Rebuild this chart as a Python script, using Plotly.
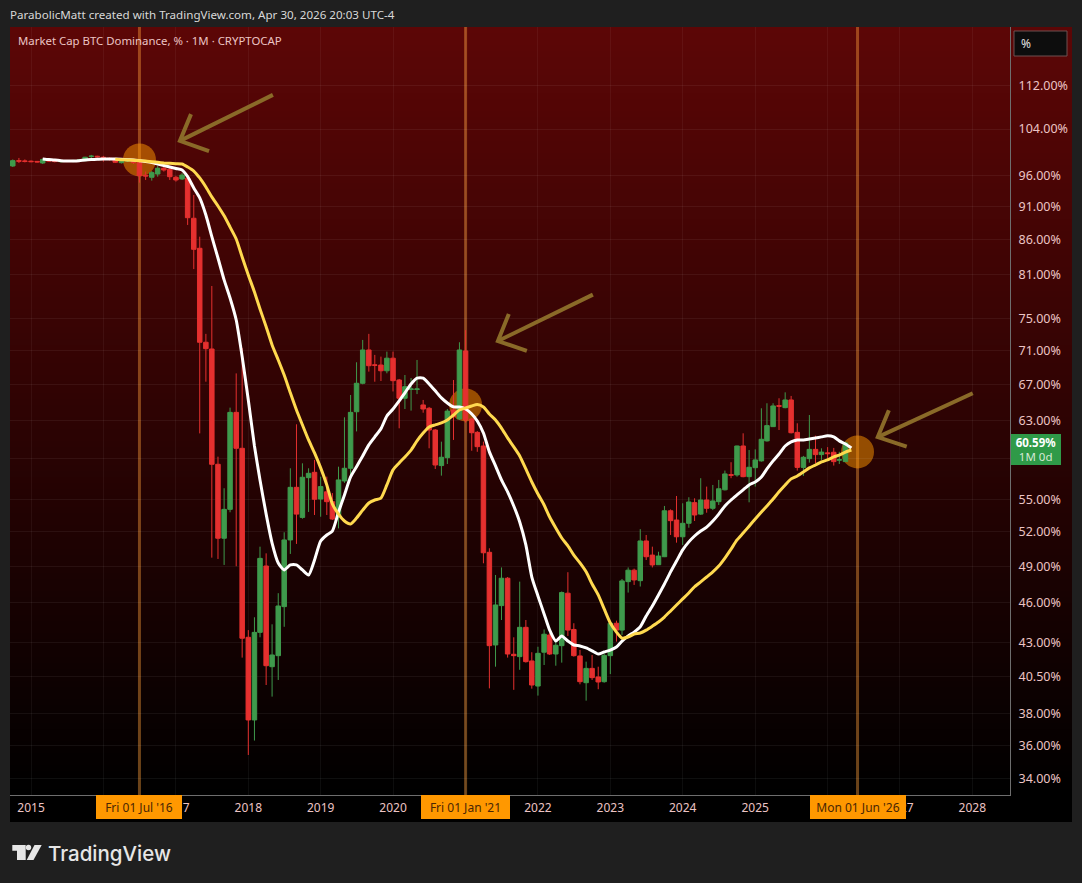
import math

import pandas as pd
import plotly.graph_objects as go

# monthly candles, Oct 2014 to Apr 2026
OPENS = [
    97.59, 98.49, 98.44,
    98.40, 98.36, 98.10, 98.52, 98.44, 98.30, 98.47, 98.36, 98.49, 98.49, 99.19, 99.24,
    99.07, 98.90, 98.78, 98.15, 98.44, 98.61, 98.15, 96.05, 95.71, 96.25, 97.21, 97.04,
    95.71, 95.43, 95.55, 89.19, 84.70, 72.05, 71.22, 58.40, 51.42, 54.04, 63.86, 60.03,
    43.36, 37.61, 43.73, 49.02, 41.22, 42.01, 45.71, 51.27, 56.13, 53.30, 57.07, 57.60,
    55.01, 55.70, 54.76, 53.36, 56.75, 58.00, 63.93, 67.14, 71.10, 69.30, 69.28, 68.60,
    70.10, 67.52, 65.43, 66.42, 66.42, 64.68, 64.31, 61.95, 58.27, 59.07, 64.12, 63.14,
    70.98, 63.14, 61.70, 60.27, 50.19, 42.79, 45.79, 48.00, 42.11, 41.94, 44.11, 41.63,
    39.87, 42.26, 43.53, 42.13, 42.74, 46.78, 43.95, 41.99, 40.10, 41.10, 40.50, 40.17,
    42.01, 44.42, 43.90, 47.72, 48.67, 47.80, 51.18, 49.95, 49.13, 49.81, 53.91, 53.06,
    51.55, 52.76, 54.67, 53.60, 54.92, 54.14, 54.76, 55.89, 57.37, 57.34, 60.27, 57.17,
    58.06, 58.74, 60.80, 62.31, 64.60, 64.38, 65.24, 61.70, 58.09, 58.97, 59.92, 59.38,
    59.56, 59.62, 58.81, 58.67,
]
HIGHS = [
    98.70, 98.95, 98.70,
    98.52, 98.44, 98.86, 98.70, 98.61, 98.61, 98.61, 98.64, 98.78, 99.15, 99.47, 99.33,
    99.30, 99.03, 98.86, 98.78, 98.86, 98.70, 98.61, 96.66, 96.75, 97.59, 97.47, 97.26,
    95.92, 96.41, 95.92, 92.84, 86.41, 73.10, 79.38, 59.17, 56.04, 64.38, 68.29, 71.33,
    43.90, 44.88, 50.68, 50.10, 44.34, 46.78, 51.95, 58.00, 62.56, 58.50, 58.00, 58.84,
    57.17, 57.17, 55.58, 58.16, 63.32, 65.80, 69.61, 72.34, 73.10, 70.50, 70.29, 70.90,
    70.90, 67.64, 68.10, 67.75, 69.89, 65.24, 64.46, 62.05, 60.72, 64.23, 67.52, 72.05,
    73.57, 63.25, 61.84, 60.72, 50.54, 48.27, 48.90, 48.10, 43.36, 47.72, 44.67, 42.26,
    42.66, 43.95, 43.68, 43.08, 46.92, 48.50, 44.42, 42.43, 41.58, 42.06, 41.22, 42.30,
    44.54, 44.62, 47.94, 48.90, 48.80, 52.23, 51.71, 50.68, 50.24, 54.36, 54.04, 55.30,
    54.61, 55.18, 55.08, 57.02, 56.20, 56.36, 56.85, 57.77, 58.61, 60.30, 61.60, 59.85,
    59.92, 64.31, 64.87, 64.87, 65.43, 66.10, 65.69, 62.67, 59.25, 63.57, 61.35, 60.03,
    60.15, 60.07, 59.67, 60.72,
]
LOWS = [
    97.42, 98.10, 98.19,
    98.22, 98.19, 97.93, 98.27, 98.19, 98.19, 98.24, 98.22, 98.36, 98.40, 98.90, 99.03,
    98.32, 98.52, 98.10, 98.01, 98.27, 97.93, 94.83, 95.27, 95.16, 95.81, 96.66, 95.27,
    95.00, 95.27, 88.17, 81.72, 61.59, 67.32, 49.73, 49.62, 49.11, 53.77, 49.00, 41.87,
    35.41, 36.30, 43.36, 39.94, 39.15, 40.29, 44.15, 50.05, 50.92, 53.18, 53.80, 53.52,
    53.36, 53.52, 53.06, 52.30, 56.56, 57.34, 61.80, 67.02, 68.50, 67.32, 67.40, 68.30,
    66.20, 62.13, 64.23, 64.05, 65.90, 63.82, 60.03, 57.93, 57.27, 58.43, 60.90, 63.03,
    62.74, 59.78, 59.67, 49.25, 39.71, 41.22, 44.67, 41.87, 39.61, 41.00, 41.51, 39.69,
    39.22, 41.34, 42.06, 41.29, 41.51, 43.46, 41.94, 39.99, 38.88, 40.29, 39.65, 40.10,
    40.70, 43.04, 43.53, 46.83, 47.45, 47.32, 49.53, 48.90, 49.11, 49.78, 51.71, 51.03,
    50.83, 52.36, 52.97, 53.52, 53.73, 53.97, 54.45, 55.83, 57.02, 57.17, 57.11, 54.70,
    56.20, 58.67, 60.72, 62.27, 61.95, 64.31, 61.59, 57.77, 57.24, 58.57, 58.51, 58.84,
    58.84, 58.27, 58.43, 58.64,
]
CLOSES = [
    98.49, 98.40, 98.37,
    98.32, 98.27, 98.70, 98.44, 98.34, 98.47, 98.36, 98.52, 98.61, 99.07, 99.26, 99.15,
    98.95, 98.78, 98.22, 98.70, 98.75, 98.15, 95.97, 95.92, 96.48, 97.21, 96.92, 95.81,
    95.27, 96.08, 89.28, 84.55, 72.05, 71.26, 58.40, 51.42, 54.04, 63.86, 60.03, 43.29,
    37.61, 43.73, 49.67, 41.29, 42.06, 45.76, 51.27, 56.13, 53.60, 57.11, 57.50, 54.99,
    56.20, 54.76, 53.15, 56.85, 58.00, 63.86, 67.14, 71.10, 69.20, 69.25, 68.60, 70.10,
    67.44, 65.43, 66.75, 66.49, 66.49, 64.23, 61.95, 58.33, 59.11, 64.00, 63.39, 71.10,
    63.03, 61.66, 60.20, 50.15, 42.74, 45.84, 48.00, 42.13, 42.01, 44.11, 41.58, 39.94,
    42.18, 43.59, 42.13, 42.77, 46.83, 43.90, 42.01, 40.17, 41.10, 40.45, 40.15, 42.03,
    44.42, 43.90, 47.78, 48.67, 47.86, 51.18, 49.81, 49.11, 49.87, 53.91, 53.00, 51.55,
    52.76, 54.73, 53.52, 54.92, 54.14, 54.83, 55.99, 57.44, 57.31, 60.27, 57.17, 58.10,
    58.84, 60.97, 62.42, 64.57, 64.54, 65.24, 61.66, 58.09, 59.11, 59.92, 59.38, 59.64,
    59.48, 58.67, 58.87, 60.59,
]

# moving averages, both end May 2026
WHITE_MA = [
    98.78, 98.68, 98.61, 98.49, 98.44, 98.44, 98.49, 98.61, 98.68, 98.73,
    98.78, 98.78, 98.78, 98.73, 98.66, 98.61, 98.49, 98.36, 98.19, 97.93, 97.68, 97.42,
    97.17, 96.92, 95.81, 93.97, 92.37, 89.69, 86.41, 83.30, 80.21, 77.76, 74.87, 70.29,
    65.24, 60.27, 56.85, 53.60, 51.00, 49.28, 48.69, 49.11, 49.11, 48.69, 48.27, 49.53,
    51.18, 51.71, 52.06, 53.79, 55.40, 57.14, 58.15, 59.25, 60.38, 61.22, 62.08, 63.46,
    64.23, 65.13, 66.05, 67.06, 67.75, 67.75, 67.06, 66.27, 65.47, 64.90, 64.46, 64.46,
    64.23, 63.68, 62.92, 61.63, 59.66, 58.24, 56.85, 55.70, 54.36, 52.88, 50.83, 48.10,
    46.56, 45.14, 43.90, 43.08, 43.46, 43.08, 42.79, 42.72, 42.57, 42.36, 42.13, 42.28,
    42.42, 42.64, 43.08, 43.46, 43.75, 44.15, 44.98, 45.76, 46.64, 47.53, 48.53, 49.44,
    50.40, 51.10, 51.62, 52.06, 52.42, 52.97, 53.60, 54.36, 54.92, 55.40, 55.89, 56.36,
    56.65, 57.14, 57.93, 58.74, 59.45, 60.27, 60.70, 60.90, 60.90, 61.00, 61.11, 61.22,
    61.33, 61.22, 60.80, 60.48, 60.07,
]
YELLOW_MA = [
    98.73, 98.66, 98.61, 98.56, 98.49, 98.41, 98.30, 98.20, 98.10, 98.03,
    97.98, 97.93, 97.42, 96.75, 95.60, 94.12, 92.53, 91.10, 89.56, 87.85, 86.07, 83.44,
    80.90, 78.56, 76.30, 74.00, 71.72, 69.89, 68.10, 66.05, 64.12, 62.50, 60.90, 59.55,
    58.04, 56.36, 54.55, 53.60, 52.97, 52.70, 53.24, 53.97, 54.64, 54.92, 55.10, 56.36,
    57.84, 58.54, 59.14, 59.85, 60.80, 61.63, 62.28, 62.50, 62.71, 63.03, 63.57, 64.12,
    64.35, 64.57, 64.73, 64.46, 63.68, 63.03, 62.16, 61.11, 60.18, 59.25, 57.93, 56.65,
    55.49, 54.45, 53.33, 52.33, 51.44, 50.75, 49.95, 49.28, 48.53, 47.53, 46.64, 45.53,
    44.44, 43.75, 43.30, 43.38, 43.60, 43.68, 43.90, 44.20, 44.52, 44.90, 45.37, 45.84,
    46.32, 46.80, 47.30, 47.70, 48.10, 48.53, 49.02, 49.70, 50.47, 51.27, 51.88, 52.50,
    53.15, 53.79, 54.36, 55.01, 55.70, 56.36, 56.95, 57.24, 57.64, 58.04, 58.33, 58.64,
    58.84, 59.14, 59.33, 59.64, 59.85,
]

Y_TICKS = [112, 104, 96, 91, 86, 81, 75, 71, 67, 63, 59, 55, 52, 49, 46, 43, 40.5, 38, 36, 34]
Y_HIDDEN = [59]  # sits behind the price label
YEARS = list(range(2015, 2029))
YEARS_HIDDEN = [2016, 2021, 2026]  # sit behind the date tags

MARK_DATES = ["2016-07-01", "2021-01-01", "2026-06-01"]
MARK_LABELS = ["Fri 01 Jul '16", "Fri 01 Jan '21", "Mon 01 Jun '26"]
MARK_LABEL_WIDTHS = [86, 89, 96]
MARK_VALUES = [98.61, 64.68, 59.66]

# hand drawn arrows, each is upper barb, tip, lower barb, then tail
ARROW_DATES = [
    ["2017-03-18", "2017-01-21", "2017-06-17", "2018-05-05"],
    ["2021-08-07", "2021-06-13", "2021-11-06", "2022-10-05"],
    ["2026-11-06", "2026-09-11", "2027-02-04", "2028-01-03"],
]
ARROW_VALUES = [
    [106.7, 101.9, 100.1, 110.3],
    [75.65, 72.2, 71.0, 78.2],
    [64.1, 61.2, 60.2, 66.0],
]

LAST_PRICE = 60.59

PINK = "#ecc4c4"
ORANGE = "#ff9800"
FONT = "Noto Sans"

# plot area in page pixels
LEFT, RIGHT, TOP, BOTTOM = 10, 1010, 27, 795
PANEL_RIGHT = 1072
PANEL_BOTTOM = 822

# circle radius, given in days on the date axis and as a factor on the log axis
CIRCLE_DAYS = 83
CIRCLE_FACTOR = math.exp(16.5 / 581)


def px_x(x):
    return (x - LEFT) / (RIGHT - LEFT)


def px_y(y):
    return (BOTTOM - y) / (BOTTOM - TOP)


months = pd.date_range("2014-10-01", periods=len(OPENS), freq="MS")
white_months = pd.date_range("2015-03-01", periods=len(WHITE_MA), freq="MS")
yellow_months = pd.date_range("2016-03-01", periods=len(YELLOW_MA), freq="MS")

shapes = []

# background fades from dark red to black
bands = 128
for i in range(bands):
    t = i / (bands - 1)
    shapes.append(dict(
        type="rect", layer="below", xref="paper", yref="paper",
        x0=0, x1=px_x(PANEL_RIGHT),
        y0=1 - i / bands, y1=1 - (i + 1) / bands,
        fillcolor=f"rgb({round(92 * (1 - t))},{round(6 * (1 - t))},{round(6 * (1 - t))})",
        line_width=0,
    ))
shapes.append(dict(
    type="rect", layer="below", xref="paper", yref="paper",
    x0=0, x1=px_x(PANEL_RIGHT), y0=px_y(PANEL_BOTTOM), y1=0,
    fillcolor="#000000", line_width=0,
))

for date, value in zip(MARK_DATES, MARK_VALUES):
    shapes.append(dict(
        type="line", layer="below", xref="x", yref="paper",
        x0=date, x1=date, y0=0, y1=1,
        line=dict(color="rgba(255,160,60,0.42)", width=3),
    ))
    shapes.append(dict(
        type="circle", layer="below", xref="x", yref="y",
        x0=pd.Timestamp(date) - pd.Timedelta(days=CIRCLE_DAYS),
        x1=pd.Timestamp(date) + pd.Timedelta(days=CIRCLE_DAYS),
        y0=value / CIRCLE_FACTOR, y1=value * CIRCLE_FACTOR,
        fillcolor="rgba(255,152,0,0.5)", line_width=0,
    ))

# scale mode button
shapes.append(dict(
    type="rect", xref="paper", yref="paper",
    x0=px_x(1014), x1=px_x(1067), y0=px_y(31), y1=px_y(56),
    fillcolor="#0d0d0d", line=dict(color="#6e5050", width=1),
))

# TradingView logo
shapes.append(dict(
    type="path", xref="paper", yref="paper", fillcolor="#e6e6e6", line_width=0,
    path=f"M {px_x(12.3)} {px_y(845)} L {px_x(25.7)} {px_y(845)} L {px_x(25.7)} {px_y(860)} "
         f"L {px_x(17)} {px_y(860)} L {px_x(17)} {px_y(850.7)} L {px_x(12.3)} {px_y(850.7)} Z",
))
shapes.append(dict(
    type="path", xref="paper", yref="paper", fillcolor="#e6e6e6", line_width=0,
    path=f"M {px_x(41.7)} {px_y(845)} L {px_x(34.5)} {px_y(845)} L {px_x(26.7)} {px_y(860)} "
         f"L {px_x(33.5)} {px_y(860)} Z",
))
shapes.append(dict(
    type="circle", xref="paper", yref="paper", fillcolor="#e6e6e6", line_width=0,
    x0=px_x(25.8), x1=px_x(31.2), y0=px_y(844.8), y1=px_y(850.2),
))

annotations = [
    dict(text="ParabolicMatt created with TradingView.com, Apr 30, 2026 20:03 UTC-4",
         xref="paper", yref="paper", x=px_x(8), y=px_y(14), xanchor="left", yanchor="middle",
         showarrow=False, font=dict(family=FONT, size=11.6, color="#d8d8d8")),
    dict(text="Market Cap BTC Dominance, % · 1M · CRYPTOCAP",
         xref="paper", yref="paper", x=px_x(16), y=px_y(41), xanchor="left", yanchor="middle",
         showarrow=False, font=dict(family=FONT, size=11.4, color=PINK)),
    dict(text="%",
         xref="paper", yref="paper", x=px_x(1026), y=px_y(44), xanchor="center", yanchor="middle",
         showarrow=False, font=dict(family=FONT, size=12, color="#e0e0e0")),
    dict(text="<b>60.59%</b><br><span style='color:#d5e8d5'>1M 0d</span>",
         xref="paper", yref="y", x=px_x(1011), y=math.log10(LAST_PRICE),
         xanchor="left", yanchor="middle", yshift=-6.5, showarrow=False,
         width=50, height=31, bgcolor="#2f9a48", borderpad=0, borderwidth=0, align="center",
         font=dict(family=FONT, size=11.5, color="#ffffff")),
    dict(text="TradingView",
         xref="paper", yref="paper", x=px_x(46), y=px_y(853), xanchor="left", yanchor="middle",
         showarrow=False, font=dict(family="Inter", size=20.5, color="#e6e6e6", weight=500)),
]
for date, label, label_width in zip(MARK_DATES, MARK_LABELS, MARK_LABEL_WIDTHS):
    annotations.append(dict(
        text=label, xref="x", yref="paper", x=date, y=0, yanchor="top",
        showarrow=False, width=label_width, height=24, bgcolor=ORANGE,
        borderpad=0, borderwidth=0,
        font=dict(family=FONT, size=12, color="#4a2604"),
    ))

fig = go.Figure()

fig.add_trace(go.Candlestick(
    x=months, open=OPENS, high=HIGHS, low=LOWS, close=CLOSES,
    whiskerwidth=0,
    increasing=dict(line=dict(color="#3f9a4c", width=1), fillcolor="#3f9a4c"),
    decreasing=dict(line=dict(color="#e5302f", width=1), fillcolor="#e5302f"),
    hoverinfo="skip",
))
fig.add_trace(go.Scatter(
    x=white_months, y=WHITE_MA, mode="lines",
    line=dict(color="#ffffff", width=3, shape="spline", smoothing=0.6), hoverinfo="skip",
))
fig.add_trace(go.Scatter(
    x=yellow_months, y=YELLOW_MA, mode="lines",
    line=dict(color="#ffd94f", width=3, shape="spline", smoothing=0.6), hoverinfo="skip",
))
for dates, values in zip(ARROW_DATES, ARROW_VALUES):
    fig.add_trace(go.Scatter(
        x=dates[:3] + [None, dates[1], dates[3]],
        y=values[:3] + [None, values[1], values[3]],
        mode="lines", line=dict(color="#8a6a28", width=4), hoverinfo="skip",
    ))

fig.update_layout(
    width=1082,
    height=883,
    margin=dict(l=LEFT, r=1082 - RIGHT, t=TOP, b=883 - BOTTOM),
    paper_bgcolor="#1f1f1f",
    plot_bgcolor="rgba(0,0,0,0)",
    showlegend=False,
    boxgap=0.1,
    boxgroupgap=0.1,
    shapes=shapes,
    annotations=annotations,
    font=dict(family=FONT, size=12, color=PINK),
    xaxis=dict(
        type="date",
        range=["2014-09-17", "2028-07-09"],
        rangeslider=dict(visible=False),
        tickmode="array",
        tickvals=[f"{y}-01-01" for y in YEARS],
        ticktext=["" if y in YEARS_HIDDEN else str(y) for y in YEARS],
        ticklabelstandoff=2,
        showgrid=True,
        gridcolor="rgba(255,255,255,0.05)",
        zeroline=False,
        showline=True,
        linecolor="#6e6e6e",
    ),
    yaxis=dict(
        type="log",
        side="right",
        range=[1.5192, 2.0933],
        tickmode="array",
        tickvals=Y_TICKS,
        ticktext=["" if v in Y_HIDDEN else f"{v:.2f}%" for v in Y_TICKS],
        ticklabelstandoff=5,
        tickfont=dict(family=FONT, size=12.5, color=PINK),
        showgrid=True,
        gridcolor="rgba(255,255,255,0.06)",
        zeroline=False,
        showline=True,
        linecolor="#6e6e6e",
    ),
)

fig.write_html(
    "out.html",
    config=dict(displayModeBar=False),
    post_script="document.body.style.margin='0';document.body.style.background='#1f1f1f';",
)
